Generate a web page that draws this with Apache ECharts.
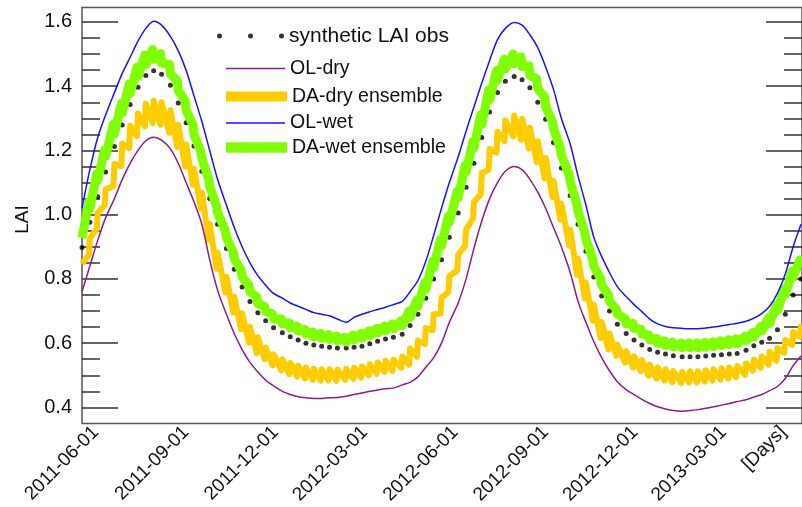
<!DOCTYPE html>
<html>
<head>
<meta charset="utf-8">
<script src="https://cdn.jsdelivr.net/npm/echarts@6/dist/echarts.min.js"></script>
<style>
html, body { margin: 0; padding: 0; background: #fff; }
#chart { width: 802px; height: 507px; }
</style>
</head>
<body>
<div id="chart"></div>
<script>
// days since 2011-06-01 of each synthetic observation
var obsDays = [
  0, 8, 16, 24, 33, 41, 49, 57, 65, 73,
  81, 90, 98, 106, 114, 122, 130, 138, 147, 155,
  163, 171, 179, 187, 195, 204, 212, 220, 228, 236,
  244, 252, 260, 269, 277, 285, 293, 301, 309, 317,
  326, 334, 342, 350, 358, 366, 374, 383, 391, 399,
  407, 415, 423, 431, 440, 448, 456, 464, 472, 480,
  488, 497, 505, 513, 521, 529, 537, 545, 554, 562,
  570, 578, 586, 594, 602, 611, 619, 627, 635, 643,
  651, 659, 667, 676, 684, 692, 700, 708, 716, 724,
  732
];
var obsLai = [
  .898, .976, 1.056, 1.133, 1.212, 1.279, 1.343, 1.397, 1.433, 1.448,
  1.437, 1.403, 1.348, 1.286, 1.214, 1.135, 1.05, .97, .895, .83,
  .775, .73, .695, .67, .648, .632, .62, .61, .60, .594,
  .59, .587, .585, .585, .587, .59, .598, .606, .613, .618,
  .628, .655, .69, .74, .80, .86, .93, 1.005, 1.085, 1.16,
  1.24, 1.32, 1.38, 1.415, 1.43, 1.42, 1.395, 1.35, 1.297, 1.225,
  1.145, 1.06, .97, .886, .806, .747, .70, .659, .63, .61,
  .594, .58, .572, .566, .561, .558, .558, .558, .56, .562,
  .564, .566, .568, .578, .592, .603, .615, .642, .69, .75,
  .80
];
var olDry = [
  .76, .84, .92, .99, 1.05, 1.11, 1.16, 1.2, 1.23, 1.241,
  1.232, 1.205, 1.16, 1.1, 1.04, .97, .86, .765, .69, .63,
  .58, .54, .51, .485, .467, .45, .44, .433, .43, .428,
  .428, .43, .431, .435, .44, .445, .45, .454, .458, .46,
  .47, .478, .495, .525, .555, .6, .665, .725, .8, .895,
  .98, 1.05, 1.1, 1.135, 1.15, 1.14, 1.11, 1.07, 1.02, .96,
  .9, .82, .73, .665, .605, .555, .514, .48, .455, .44,
  .425, .412, .402, .395, .39, .388, .39, .393, .397, .402,
  .407, .412, .418, .424, .432, .44, .452, .465, .49, .53,
  .56
];
var olWet = [
  1.02, 1.14, 1.24, 1.31, 1.38, 1.44, 1.49, 1.54, 1.58, 1.602,
  1.59, 1.555, 1.51, 1.45, 1.37, 1.29, 1.2, 1.11, 1.03, .96,
  .9, .85, .81, .78, .755, .74, .725, .715, .705, .695,
  .69, .685, .675, .665, .68, .69, .698, .705, .712, .72,
  .73, .76, .795, .855, .935, 1.02, 1.1, 1.18, 1.26, 1.335,
  1.41, 1.48, 1.545, 1.58, 1.598, 1.59, 1.56, 1.52, 1.46, 1.39,
  1.3, 1.22, 1.12, 1.03, .93, .87, .82, .776, .745, .72,
  .698, .675, .66, .652, .648, .646, .645, .645, .647, .65,
  .654, .658, .662, .668, .678, .692, .715, .755, .815, .9,
  .97
];
// ensemble centre and size of the jump at each analysis step
var daDryMid = [
  .822, .901, .981, 1.054, 1.123, 1.186, 1.242, 1.28, 1.31, 1.32,
  1.315, 1.29, 1.245, 1.184, 1.118, 1.044, .946, .857, .782, .72,
  .668, .626, .593, .568, .548, .532, .521, .513, .507, .503,
  .501, .501, .5, .503, .506, .51, .517, .522, .528, .531,
  .541, .558, .583, .622, .665, .717, .784, .851, .928, 1.014,
  1.097, 1.172, 1.226, 1.261, 1.276, 1.266, 1.238, 1.196, 1.145, 1.08,
  1.01, .928, .838, .764, .695, .641, .605, .578, .557, .542,
  .53, .516, .507, .501, .496, .493, .495, .495, .498, .501,
  .504, .507, .511, .519, .531, .541, .553, .565, .59, .615,
  .64
];
var daDryJump = [
  .05, .05, .05, .05, .07, .07, .07, .07, .07, .07,
  .07, .07, .07, .07, .05, .05, .05, .05, .05, .05,
  .05, .05, .05, .035, .035, .035, .035, .035, .035, .035,
  .035, .035, .035, .035, .035, .035, .035, .035, .035, .035,
  .035, .05, .05, .05, .05, .05, .05, .05, .05, .05,
  .065, .065, .065, .065, .065, .065, .065, .065, .065, .05,
  .05, .05, .05, .05, .05, .05, .05, .035, .035, .035,
  .035, .035, .035, .035, .035, .035, .035, .035, .035, .035,
  .035, .035, .035, .035, .035, .035, .04, .04, .04, .04,
  .04
];
var daWetMid = [
  .938, 1.03, 1.117, 1.191, 1.267, 1.332, 1.392, 1.444, 1.482, 1.499,
  1.487, 1.453, 1.401, 1.34, 1.265, 1.186, 1.1, 1.016, .94, .873,
  .816, .77, .733, .706, .683, .668, .655, .645, .635, .627,
  .623, .619, .615, .611, .618, .623, .631, .639, .646, .652,
  .662, .69, .725, .778, .845, .913, .986, 1.063, 1.143, 1.218,
  1.296, 1.373, 1.434, 1.469, 1.485, 1.476, 1.449, 1.407, 1.351, 1.279,
  1.196, 1.113, 1.02, .934, .85, .791, .74, .698, .668, .654,
  .636, .618, .607, .6, .596, .593, .593, .593, .595, .597,
  .6, .603, .606, .614, .626, .645, .67, .71, .76, .815,
  .85
];
var daWetJump = [
  .02, .02, .02, .02, .03, .03, .03, .03, .03, .03,
  .03, .03, .03, .03, .03, .02, .02, .02, .02, .02,
  .02, .02, .02, .015, .015, .015, .015, .015, .015, .015,
  .015, .015, .015, .015, .015, .015, .015, .015, .015, .015,
  .015, .02, .02, .02, .02, .02, .02, .02, .02, .02,
  .03, .03, .03, .03, .03, .03, .03, .03, .03, .02,
  .02, .02, .02, .02, .02, .02, .02, .015, .015, .015,
  .015, .015, .015, .015, .015, .015, .015, .015, .015, .015,
  .015, .015, .015, .015, .015, .015, .018, .018, .018, .018,
  .018
];
var xLabelDays = [0, 92, 183, 274, 366, 458, 549, 639, 700];
var xLabelText = ['2011-06-01', '2011-09-01', '2011-12-01', '2012-03-01',
  '2012-06-01', '2012-09-01', '2012-12-01', '2013-03-01', '[Days]'];
var yMajor = [0.4, 0.6, 0.8, 1.0, 1.2, 1.4, 1.6];
var yMinor = [0.45, 0.5, 0.55, 0.65, 0.7, 0.75, 0.85, 0.9, 0.95,
  1.05, 1.1, 1.15, 1.25, 1.3, 1.35, 1.45, 1.5, 1.55];

var FONT = "'Liberation Sans', Arial, Helvetica, sans-serif";
var LABEL_SHIFT = 14; // ROOT puts the rotated date text a bit right of its tick
var DOTS_ICON = 'path://M0,2.5A2.5,2.5,0,1,0,5,2.5A2.5,2.5,0,1,0,0,2.5Z' +
  'M31,2.5A2.5,2.5,0,1,0,36,2.5A2.5,2.5,0,1,0,31,2.5Z' +
  'M62,2.5A2.5,2.5,0,1,0,67,2.5A2.5,2.5,0,1,0,62,2.5Z';

var pairs = function(vals){
  return obsDays.map(function(d, i){ return [d, vals[i]]; });
};

// ensemble band: one point right after each analysis, one just before the next
var zigzag = function(mid, jump, sign){
  var pts = [];
  for (var i = 0; i < obsDays.length; i++) {
    pts.push([obsDays[i], mid[i] + sign * jump[i] / 2]);
    if (i + 1 < obsDays.length) {
      pts.push([obsDays[i + 1] - 1, mid[i + 1] - sign * jump[i + 1] / 2]);
    }
  }
  return pts;
};

var tickAxis = function(pos, vals, len, labels){
  return {
    type: 'value', position: pos, min: 0.35, max: 1.645,
    axisLine: {show: false}, splitLine: {show: false},
    axisTick: {show: true, inside: true, length: len, customValues: vals,
      lineStyle: {color: '#333', width: 1.5}},
    axisLabel: labels ? {show: true, customValues: vals, margin: 10, fontSize: 20,
      color: '#111', fontFamily: FONT,
      formatter: function(v){ return v.toFixed(1); }} : {show: false}
  };
};

var legendRow = function(name, icon, left, top, w, h, size){
  return {
    data: [{name: name, icon: icon}], left: left, top: top,
    itemWidth: w, itemHeight: h, padding: 0, selectedMode: false,
    itemStyle: {borderWidth: 0},
    textStyle: {fontSize: size, color: '#111', fontFamily: FONT}
  };
};

var yLeft = tickAxis('left', yMajor, 36, true);
yLeft.name = 'LAI';
yLeft.nameLocation = 'middle';
yLeft.nameGap = 50;
yLeft.nameTextStyle = {fontSize: 19, color: '#111', fontFamily: FONT, padding: [0, 0, 0, -8]};

var chart = echarts.init(document.getElementById('chart'));
chart.setOption({
  animation: false,
  backgroundColor: '#fff',
  grid: {left: 82, right: -6, top: 7.5, bottom: 80, containLabel: false,
    show: true, borderColor: '#555', borderWidth: 1.5},
  legend: [
    legendRow('synthetic LAI obs', DOTS_ICON, 217, 25.5, 67, 5, 21),
    legendRow('OL-dry', 'rect', 226, 58.5, 59, 1.5, 19.5),
    legendRow('DA-dry ensemble', 'rect', 226, 86.5, 61, 10, 19.5),
    legendRow('OL-wet', 'rect', 226, 113, 59, 1.5, 19.5),
    legendRow('DA-wet ensemble', 'rect', 226, 137.5, 61, 10.5, 19.5)
  ],
  xAxis: {
    type: 'value', min: 0, max: 733,
    axisLine: {show: false}, axisTick: {show: false}, splitLine: {show: false},
    axisLabel: {
      customValues: xLabelDays.map(function(d){ return d + LABEL_SHIFT; }),
      rotate: 45, margin: 6, fontSize: 19, color: '#111', fontFamily: FONT,
      formatter: function(v){
        for (var i = 0; i < xLabelDays.length; i++) {
          if (Math.abs(xLabelDays[i] + LABEL_SHIFT - v) < 0.5) return xLabelText[i];
        }
        return '';
      }
    }
  },
  yAxis: [
    yLeft,
    tickAxis('left', yMinor, 18, false),
    tickAxis('right', yMajor, 36, false),
    tickAxis('right', yMinor, 18, false)
  ],
  series: [
    {name: 'DA-dry ensemble', type: 'line', data: zigzag(daDryMid, daDryJump, 1),
      symbol: 'none', color: '#ffcc00',
      lineStyle: {color: '#ffcc00', width: 6, join: 'round'}},
    {name: 'DA-wet ensemble', type: 'line', data: zigzag(daWetMid, daWetJump, -1),
      symbol: 'none', color: '#80ff00',
      lineStyle: {color: '#80ff00', width: 9, join: 'round'}},
    {name: 'OL-dry', type: 'line', data: pairs(olDry), smooth: 0.3,
      symbol: 'none', color: '#8e1b8e',
      lineStyle: {color: '#8e1b8e', width: 1.5}},
    {name: 'OL-wet', type: 'line', data: pairs(olWet), smooth: 0.3,
      symbol: 'none', color: '#1414ff',
      lineStyle: {color: '#1414ff', width: 1.5}},
    {name: 'synthetic LAI obs', type: 'scatter', data: pairs(obsLai),
      symbol: 'circle', symbolSize: 5, color: '#000',
      itemStyle: {color: '#000'}}
  ]
});
</script>
</body>
</html>
